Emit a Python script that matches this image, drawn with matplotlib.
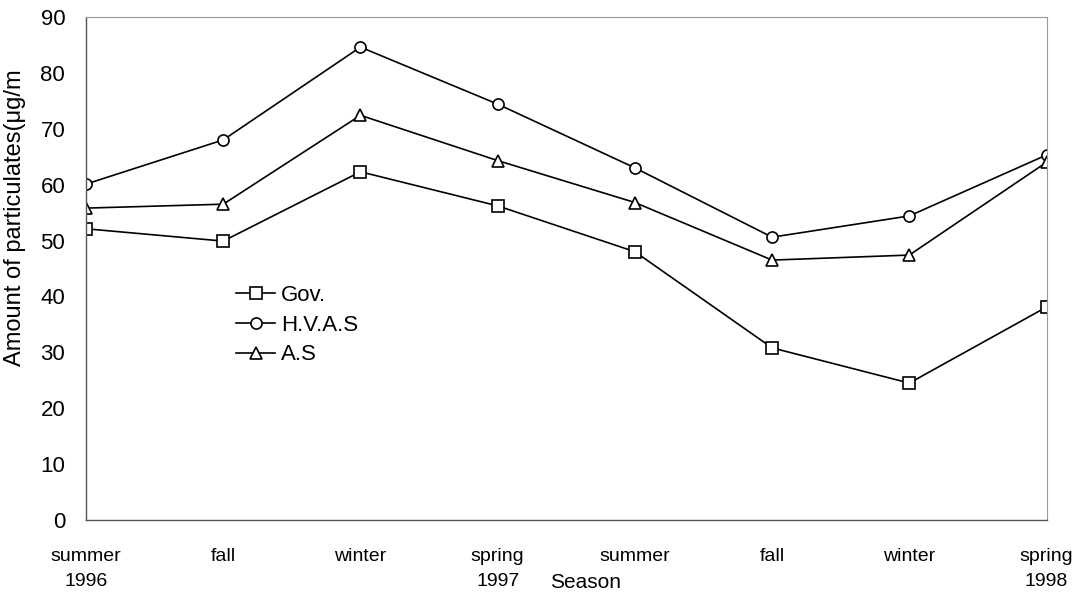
import numpy as np
import matplotlib.pyplot as plt

plt.rcParams['font.family'] = ['Liberation Sans', 'DejaVu Sans']

# seasons on the x axis
seasons = ["summer\n1996", "fall", "winter", "spring\n1997",
           "summer", "fall", "winter", "spring\n1998"]

# amount of particulates
gov = [52.1, 49.9, 62.3, 56.2, 48.0, 30.8, 24.5, 38.1]
hvas = [60.1, 68.0, 84.6, 74.4, 63.0, 50.6, 54.4, 65.3]
a_s = [55.8, 56.5, 72.4, 64.3, 56.8, 46.5, 47.4, 64.0]

x = np.arange(len(seasons))

fig = plt.figure(figsize=(10.89, 6.04), dpi=100)
ax = fig.add_axes([0.079, 0.139, 0.882, 0.833])

style = dict(color='black', linewidth=1.2, markersize=8,
             markerfacecolor='white', markeredgecolor='black', markeredgewidth=1.2)
ax.plot(x, gov, marker='s', label='Gov.', **style)
ax.plot(x, hvas, marker='o', label='H.V.A.S', **style)
ax.plot(x, a_s, marker='^', label='A.S', **style)

ax.set_xlim(0, 7)
ax.set_ylim(0, 90)
ax.set_yticks(range(0, 91, 10))
ax.set_xticks(x)
ax.set_xticklabels(seasons, fontsize=14, linespacing=1.6)
ax.tick_params(axis='x', length=0, pad=20)
ax.tick_params(axis='y', length=0, pad=15, labelsize=16)

for s in ['top', 'right']:
    ax.spines[s].set_color('#999999')
    ax.spines[s].set_linewidth(0.8)
    ax.spines[s].set_linestyle((0, (2, 1)))
for s in ['left', 'bottom']:
    ax.spines[s].set_color('#555555')
    ax.spines[s].set_linewidth(1.0)

ax.set_ylabel('Amount of particulates(μg/m', fontsize=17)
ax.yaxis.set_label_coords(-0.062, 0.60)
ax.text(0.52, -0.125, 'Season', transform=ax.transAxes, ha='center', va='center', fontsize=15)

ax.legend(loc='upper left', bbox_to_anchor=(0.145, 0.49), frameon=False, fontsize=16,
          handlelength=1.75, handletextpad=0.25, labelspacing=0.4, borderpad=0)

fig.savefig('out.png', dpi=100)
